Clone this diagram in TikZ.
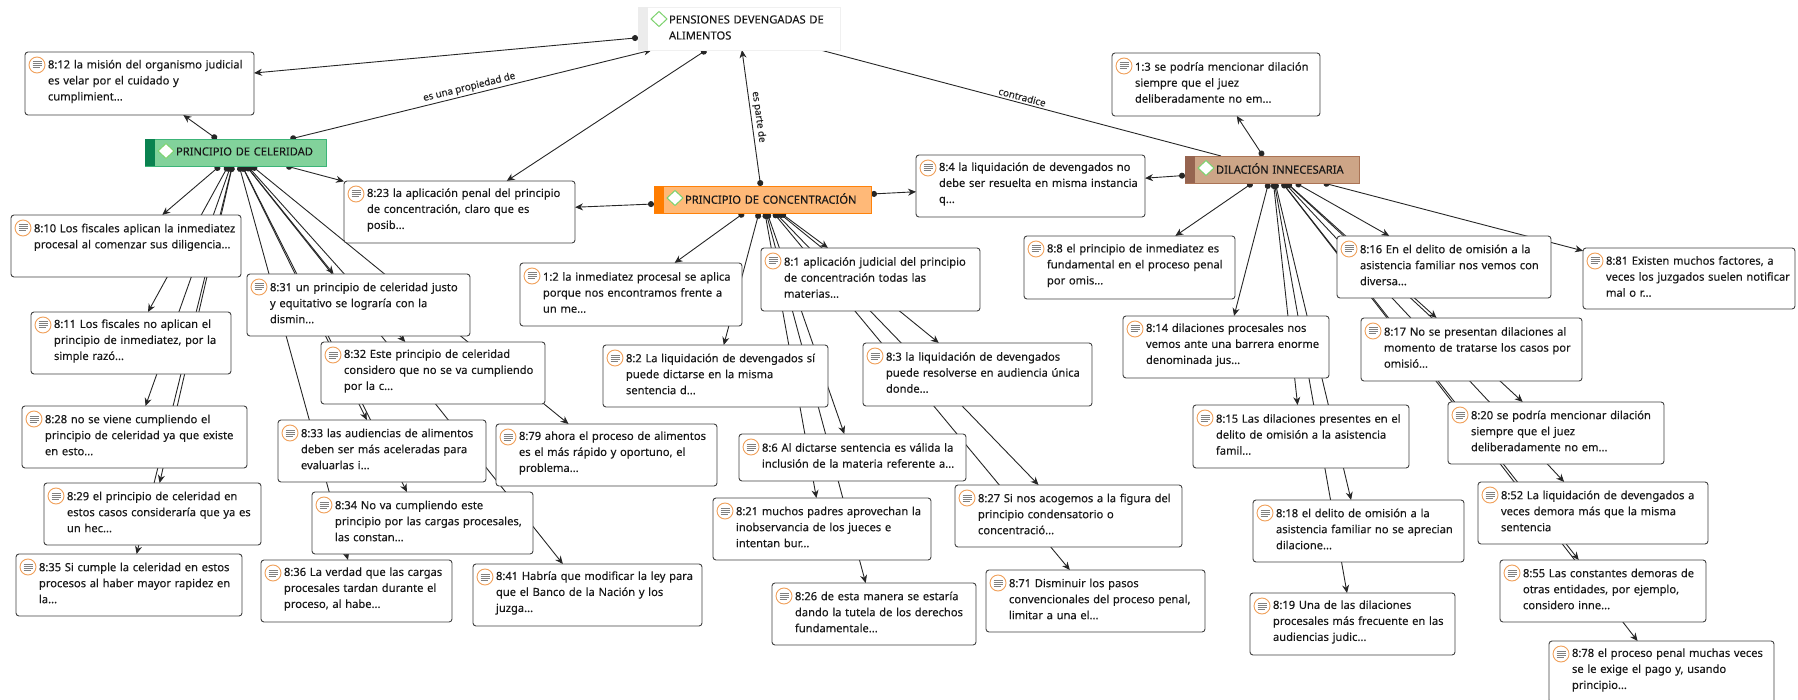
\documentclass[tikz,border=0pt]{standalone}
\usepackage{fontspec}
\setmainfont[FakeBold=0.25]{Noto Sans}
\usetikzlibrary{arrows.meta, backgrounds}
\definecolor{celeridadfill}{RGB}{130,210,155}
\definecolor{celeridadedge}{RGB}{60,180,120}
\definecolor{celeridadbar}{RGB}{10,130,80}
\definecolor{concentrafill}{RGB}{255,185,120}
\definecolor{concentraedge}{RGB}{255,130,10}
\definecolor{concentrabar}{RGB}{255,125,0}
\definecolor{dilacionfill}{RGB}{205,165,135}
\definecolor{dilacionedge}{RGB}{170,115,85}
\definecolor{dilacionbar}{RGB}{150,100,80}
\definecolor{pensionfill}{RGB}{255,255,255}
\definecolor{pensionedge}{RGB}{240,240,240}
\definecolor{pensionbar}{RGB}{236,236,236}
\definecolor{iconorange}{RGB}{240,160,90}
\definecolor{icongreen}{RGB}{125,210,110}
\tikzset{
	quote/.style 2 args = {
		anchor = north west,
		rectangle,
		rounded corners = 3pt,
		draw = black!75,
		line width = 0.9pt,
		fill = white,
		outer sep = 0,
		inner sep = 0,
		minimum width = #1,
		minimum height = #2,
		text width = #1,
		align = left,
		text = black!90,
		font = \fontsize{11.15}{16}\selectfont,
		execute at begin node = {\leftskip=23pt\rightskip=-30pt plus 1fil},
		execute at end node = {\par\vspace*{4pt}}
	},
	concept/.style n args = {4}{
		anchor = north west,
		rectangle,
		draw = #4,
		fill = #3,
		line width = 0.9pt,
		outer sep = 0,
		inner sep = 0,
		minimum width = #1,
		minimum height = #2,
		text width = #1,
		align = left,
		text = black!90,
		font = \fontsize{11.15}{16}\selectfont,
		execute at begin node = {\leftskip=31pt\rightskip=-30pt plus 1fil},
		execute at end node = {\par\vspace*{2pt}}
	},
	link/.style = {
		{Circle[length = 6pt]}-{Stealth[length = 8pt, width = 7pt]},
		black!85,
		line width = 0.9pt
	},
	relation/.style = {
		midway,
		sloped,
		above,
		inner sep = 2pt,
		black!85,
		font = \fontsize{9.8}{11}\selectfont
	}
}

\begin{document}
\begin{tikzpicture}[x = 1pt, y = -1pt]
	\useasboundingbox (0, 0) rectangle (1798, 700);

	\node[concept = {202}{43}{pensionfill}{pensionedge}] (pensiones) at (638, 7) {PENSIONES DEVENGADAS DE\\ALIMENTOS};
	\node[concept = {181}{27}{celeridadfill}{celeridadedge}] (celeridad) at (145, 139) {PRINCIPIO DE CELERIDAD};
	\node[concept = {217}{27}{concentrafill}{concentraedge}] (concentracion) at (654, 186) {PRINCIPIO DE CONCENTRACIÓN};
	\node[concept = {174}{27}{dilacionfill}{dilacionedge}] (dilacion) at (1185, 156) {DILACIÓN INNECESARIA};

	% left column
	\node[quote = {229}{63}] (q812) at (25, 52) {8:12 la misión del organismo judicial\\es velar por el cuidado y\\cumplimient...};
	\node[quote = {231}{62}] (q823) at (344, 181) {8:23 la aplicación penal del principio\\de concentración, claro que es\\posib...};
	\node[quote = {230}{62}] (q810) at (11, 215) {8:10 Los fiscales aplican la inmediatez\\procesal al comenzar sus diligencia...\\~};
	\node[quote = {200}{62}] (q811) at (31, 312) {8:11 Los fiscales no aplican el\\principio de inmediatez, por la\\simple razó...};
	\node[quote = {225}{62}] (q828) at (22, 406) {8:28 no se viene cumpliendo el\\principio de celeridad ya que existe\\en esto...};
	\node[quote = {217}{62}] (q829) at (44, 483) {8:29 el principio de celeridad en\\estos casos consideraría que ya es\\un hec...};
	\node[quote = {226}{62}] (q835) at (16, 554) {8:35 Si cumple la celeridad en estos\\procesos al haber mayor rapidez en\\la...};
	\node[quote = {223}{62}] (q831) at (247, 274) {8:31 un principio de celeridad justo\\y equitativo se lograría con la\\dismin...};
	\node[quote = {224}{62}] (q832) at (321, 342) {8:32 Este principio de celeridad\\considero que no se va cumpliendo\\por la c...};
	\node[quote = {208}{62}] (q833) at (278, 420) {8:33 las audiencias de alimentos\\deben ser más aceleradas para\\evaluarlas i...};
	\node[quote = {221}{62}] (q879) at (496, 424) {8:79 ahora el proceso de alimentos\\es el más rápido y oportuno, el\\problema...};
	\node[quote = {221}{62}] (q834) at (312, 492) {8:34 No va cumpliendo este\\principio por las cargas procesales,\\las constan...};
	\node[quote = {191}{62}] (q836) at (261, 560) {8:36 La verdad que las cargas\\procesales tardan durante el\\proceso, al habe...};
	\node[quote = {229}{62}] (q841) at (473, 564) {8:41 Habría que modificar la ley para\\que el Banco de la Nación y los\\juzga...};

	% middle column
	\node[quote = {222}{63}] (q12) at (520, 263) {1:2 la inmediatez procesal se aplica\\porque nos encontramos frente a\\un me...};
	\node[quote = {229}{62}] (q84) at (916, 155) {8:4 la liquidación de devengados no\\debe ser resuelta en misma instancia\\q...};
	\node[quote = {219}{63}] (q81) at (761, 248) {8:1 aplicación judicial del principio\\de concentración todas las\\materias...};
	\node[quote = {225}{62}] (q82) at (603, 345) {8:2 La liquidación de devengados sí\\puede dictarse en la misma\\sentencia d...};
	\node[quote = {229}{63}] (q83) at (863, 343) {8:3 la liquidación de devengados\\puede resolverse en audiencia única\\donde...};
	\node[quote = {227}{47}] (q86) at (739, 434) {8:6 Al dictarse sentencia es válida la\\inclusión de la materia referente a...};
	\node[quote = {218}{62}] (q821) at (713, 498) {8:21 muchos padres aprovechan la\\inobservancia de los jueces e\\intentan bur...};
	\node[quote = {227}{62}] (q827) at (955, 485) {8:27 Si nos acogemos a la figura del\\principio condensatorio o\\concentració...};
	\node[quote = {204}{62}] (q826) at (772, 583) {8:26 de esta manera se estaría\\dando la tutela de los derechos\\fundamentale...};
	\node[quote = {219}{62}] (q871) at (986, 570) {8:71 Disminuir los pasos\\convencionales del proceso penal,\\limitar a una el...};

	% right column
	\node[quote = {208}{63}] (q13) at (1112, 53) {1:3 se podría mencionar dilación\\siempre que el juez\\deliberadamente no em...};
	\node[quote = {211}{63}] (q88) at (1024, 236) {8:8 el principio de inmediatez es\\fundamental en el proceso penal\\por omis...};
	\node[quote = {214}{62}] (q816) at (1337, 236) {8:16 En el delito de omisión a la\\asistencia familiar nos vemos con\\diversa...};
	\node[quote = {212}{61}] (q881) at (1583, 248) {8:81 Existen muchos factores, a\\veces los juzgados suelen notificar\\mal o r...};
	\node[quote = {206}{62}] (q814) at (1123, 316) {8:14 dilaciones procesales nos\\vemos ante una barrera enorme\\denominada jus...};
	\node[quote = {221}{63}] (q817) at (1361, 318) {8:17 No se presentan dilaciones al\\momento de tratarse los casos por\\omisió...};
	\node[quote = {216}{63}] (q815) at (1193, 405) {8:15 Las dilaciones presentes en el\\delito de omisión a la asistencia\\famil...};
	\node[quote = {216}{62}] (q820) at (1448, 402) {8:20 se podría mencionar dilación\\siempre que el juez\\deliberadamente no em...};
	\node[quote = {211}{62}] (q818) at (1253, 500) {8:18 el delito de omisión a la\\asistencia familiar no se aprecian\\dilacione...};
	\node[quote = {230}{62}] (q852) at (1478, 482) {8:52 La liquidación de devengados a\\veces demora más que la misma\\sentencia};
	\node[quote = {205}{62}] (q819) at (1250, 593) {8:19 Una de las dilaciones\\procesales más frecuente en las\\audiencias judic...};
	\node[quote = {206}{62}] (q855) at (1500, 560) {8:55 Las constantes demoras de\\otras entidades, por ejemplo,\\considero inne...};
	\node[quote = {225}{62}] (q878) at (1549, 641) {8:78 el proceso penal muchas veces\\se le exige el pago y, usando\\principio...};

	% colour bars and diamonds of the concepts
	\foreach \name/\barcolor in {pensiones/pensionbar, celeridad/celeridadbar, concentracion/concentrabar, dilacion/dilacionbar} {
		\fill[\barcolor] (\name.north west) rectangle ([xshift = 10pt]\name.south west);
		\begin{scope}[shift = {(\name.north west)}]
			\draw[icongreen, fill = white, line width = 1pt] (13, 12) -- (21, 4.5) -- (29, 12) -- (21, 19.5) -- cycle;
		\end{scope}
	}

	% note icons of the quotes
	\foreach \name in {q812, q823, q810, q811, q828, q829, q835, q831, q832, q833, q879, q834, q836, q841, q12, q84, q81, q82, q83, q86, q821, q827, q826, q871, q13, q88, q816, q881, q814, q817, q815, q820, q818, q852, q819, q855, q878} {
		\begin{scope}[shift = {(\name.north west)}]
			\draw[iconorange, fill = white, line width = 0.9pt] (12, 13) circle (8);
			\foreach \dy/\dx in {-3/4.5, -1/4.5, 1/4.5, 3/3} {
				\draw[black!50, line width = 1pt] (7.5, 13 + \dy) -- (12 + \dx, 13 + \dy);
			}
		\end{scope}
	}

	\begin{scope}[on background layer]
		\draw[link] (celeridad) -- node[relation] {es una propiedad de} (pensiones);
		\draw[link] (concentracion) -- node[relation] {es parte de} (pensiones);
		\draw[black!85, line width = 0.9pt] (pensiones) -- node[relation] {contradice} (dilacion);
		\draw[link] (pensiones) -- (q812);
		\draw[link] (pensiones) -- (q823);
		\foreach \target in {q812, q823, q810, q811, q828, q829, q835, q831, q832, q833, q879, q834, q836, q841} {
			\draw[link] (celeridad) -- (\target);
		}
		\foreach \target in {q823, q84, q12, q81, q82, q83, q86, q821, q826, q827, q871} {
			\draw[link] (concentracion) -- (\target);
		}
		\foreach \target in {q84, q13, q88, q814, q815, q818, q819, q816, q817, q820, q852, q855, q878, q881} {
			\draw[link] (dilacion) -- (\target);
		}
	\end{scope}
\end{tikzpicture}
\end{document}
